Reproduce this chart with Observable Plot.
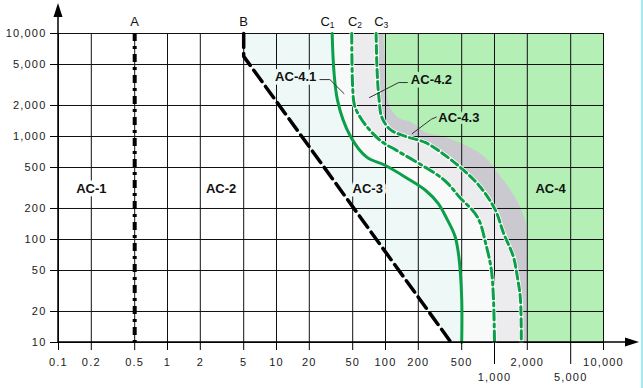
<!DOCTYPE html>
<html><head><meta charset="utf-8">
<script src="https://cdn.jsdelivr.net/npm/d3@7"></script>
<script src="https://cdn.jsdelivr.net/npm/@observablehq/plot@0.6"></script>
<style>
html,body{margin:0;padding:0;background:#fff;}
#chart{width:643px;height:388px;position:relative;overflow:hidden;}
#chart::after{content:"";position:absolute;right:0;top:0;width:2px;height:100%;background:#a4ecf2;}
</style></head><body><div id="chart"></div>
<script>
// Tick values (current in mA, time in ms)
const xTicks = [0.1,0.2,0.5,1,2,5,10,20,50,100,200,500,1000,2000,5000,10000];
const xTicksLowRow = [1000,5000];
const yTicks = [10,20,50,100,200,500,1000,2000,5000,10000];

// Boundary curves (current mA vs time ms)
const aCurrent = 0.5;
const bCurrent = [5, 5, 400];
const bTime    = [10000, 6000, 10];
const c1Current = [32.4, 36.3, 47.8, 67.3, 100, 154, 234, 304, 371, 435, 471, 500, 500];
const c1Time    = [10000, 2240, 1000, 630, 523, 400, 299, 224, 154, 107, 68, 27, 10];
const c2Current = [49, 50, 52, 58.6, 71.4, 92.5, 124, 217, 349, 481, 700, 836, 935, 978, 1000];
const c2Time    = [10000, 2990, 2000, 1540, 1160, 891, 741, 524, 374, 256, 164, 89, 51, 27, 10];
const c3Current = [82, 83.7, 87, 92.5, 111, 154, 234, 371, 523, 748, 1021, 1208, 1490, 1622, 1727, 1762];
const c3Time    = [10000, 4380, 2390, 1540, 1165, 1000, 871, 630, 468, 320, 192, 116, 68, 43, 27, 10];
const shadeCurrent = [96, 102, 109, 132, 176, 234, 304, 523, 818, 1158, 1555, 1918, 2000, 2000];
const shadeTime    = [10000, 4380, 2000, 1510, 1355, 1090, 1020, 832, 630, 400, 256, 154, 100, 10];

// Curve labels
const curveLabels = ["A","B","C","C","C"];
const curveSubs   = ["","","1","2","3"];
const curveLabelCurrent = [0.5, 5, 30.2, 54, 94];

// Zone labels
const zoneNames   = ["AC-1","AC-2","AC-3","AC-4","AC-4.1","AC-4.2","AC-4.3"];
const zoneCurrent = [0.2, 3.1, 68.7, 3270, 15, 264, 471];
const zoneTime    = [313, 313, 313, 313, 3830, 3570, 1510];
const zoneHalo    = ["#ffffff","#ffffff","#f0f9f8","#b4f0b6","#eef8f7","#b4f0b6","#b4f0b6"];

// Leader lines for AC-4.x
const lead1Current = [24, 30.9, 41.6],  lead1Time = [3570, 3570, 2610];
const lead2Current = [164, 132, 71.4],  lead2Time = [3340, 3340, 2390];
const lead3Current = [310, 264, 176],   lead3Time = [1580, 1475, 1067];

const table = (c, t) => c.map((v, i) => ({mA: v, ms: t[i]}));
const B = table(bCurrent, bTime), C1 = table(c1Current, c1Time), C2 = table(c2Current, c2Time),
      C3 = table(c3Current, c3Time), SH = table(shadeCurrent, shadeTime);
const xMax = xTicks[xTicks.length - 1], xMin = xTicks[0];
const yMin = yTicks[0], yMax = yTicks[yTicks.length - 1];
const fmt = d3.format(",");
const green = "#0a9f48";

const fillTo = (data, fill, curve) => Plot.areaX(data, {y: "ms", x1: "mA", x2: () => xMax, fill, curve});
const C = curveLabels.map((d, i) => ({t: d, s: curveSubs[i], x: curveLabelCurrent[i], y: yMax}));
const Z = zoneNames.map((d, i) => ({t: d, x: zoneCurrent[i], y: zoneTime[i], h: zoneHalo[i]}));
const xTop = xTicks.filter(d => !xTicksLowRow.includes(d));
const tickText = {fontSize: 11, fill: "#1a1a1a"};

const chart = Plot.plot({
  width: 643, height: 388,
  marginLeft: 58, marginRight: 40, marginTop: 33, marginBottom: 46,
  x: {type: "log", domain: [xMin, xMax]},
  y: {type: "log", domain: [yMin, yMax]},
  color: {type: "identity"},
  style: {fontFamily: "'Liberation Sans', Arial, sans-serif", fontSize: "11px", background: "transparent", color: "#111"},
  marks: [
    fillTo(B, "#eef8f7", "linear"),
    fillTo(C1, "#f8fafa", "catmull-rom"),
    fillTo(C2, "#ececef", "catmull-rom"),
    fillTo(C3, "#c9c9cf", "catmull-rom"),
    fillTo(SH, "#b4f0b6", "catmull-rom"),
    Plot.ruleX(xTicks, {stroke: "#111", strokeWidth: 1}),
    Plot.ruleY(yTicks, {stroke: "#111", strokeWidth: 1}),
    Plot.ruleX([aCurrent], {stroke: "#000", strokeWidth: 4, strokeDasharray: "8,5,3,5"}),
    Plot.line(B, {x: "mA", y: "ms", stroke: "#000", strokeWidth: 3.5, strokeDasharray: "14,6"}),
    Plot.line(C1, {x: "mA", y: "ms", stroke: green, strokeWidth: 3, curve: "catmull-rom"}),
    Plot.line(C2, {x: "mA", y: "ms", stroke: "#fff", strokeWidth: 4.5, curve: "catmull-rom"}),
    Plot.line(C2, {x: "mA", y: "ms", stroke: green, strokeWidth: 3, strokeDasharray: "10,4,3,4", curve: "catmull-rom"}),
    Plot.line(C3, {x: "mA", y: "ms", stroke: "#fff", strokeWidth: 4.5, curve: "catmull-rom"}),
    Plot.line(C3, {x: "mA", y: "ms", stroke: green, strokeWidth: 3, strokeDasharray: "8,4", curve: "catmull-rom"}),
    Plot.line(table(lead1Current, lead1Time), {x: "mA", y: "ms", stroke: "#333", strokeWidth: 1}),
    Plot.line(table(lead2Current, lead2Time), {x: "mA", y: "ms", stroke: "#333", strokeWidth: 1}),
    Plot.line(table(lead3Current, lead3Time), {x: "mA", y: "ms", stroke: "#333", strokeWidth: 1}),
    Plot.text(Z, {x: "x", y: "y", text: "t", fill: "#111", stroke: "h", strokeWidth: 7, fontWeight: "bold", fontSize: 13}),
    Plot.text(C.slice(0, 2), {x: "x", y: "y", text: "t", dy: -12, fontSize: 13, fill: "#111"}),
    Plot.text(C.slice(2), {x: "x", y: "y", text: "t", dy: -12, dx: 1, textAnchor: "end", fontSize: 13, fill: "#111"}),
    Plot.text(C.slice(2), {x: "x", y: "y", text: "s", dy: -8, dx: 1, textAnchor: "start", fontSize: 8.5, fill: "#111"}),
    // tick marks (labels drawn below as text so none are thinned out)
    Plot.axisX({ticks: xTop, tickFormat: () => "", tickSize: 8, stroke: "#000"}),
    Plot.axisX({ticks: xTicksLowRow, tickFormat: () => "", tickSize: 22, stroke: "#000"}),
    Plot.axisY({ticks: yTicks, tickFormat: () => "", tickSize: 8, stroke: "#000"}),
    Plot.text(xTop, {x: d => d, y: () => yMin, text: fmt, dy: 20, ...tickText}),
    Plot.text(xTicksLowRow, {x: d => d, y: () => yMin, text: fmt, dy: 35, ...tickText}),
    Plot.text(yTicks, {x: () => xMin, y: d => d, text: fmt, dx: -12, textAnchor: "end", ...tickText})
  ]
});

// Slightly spaced tick label digits, as in the reference
const labelSet = new Set([...xTicks, ...yTicks].map(fmt));
d3.select(chart).selectAll("text").filter(function () {
  return labelSet.has(this.textContent) && this.getAttribute("font-weight") !== "bold";
}).attr("letter-spacing", "1.2px");

// Axis lines with arrowheads
const sx = chart.scale("x"), sy = chart.scale("y");
const x0 = sx.apply(xMin), y0 = sy.apply(yMin);
const yTop = sy.apply(yMax), xRight = sx.apply(xMax);
const g = d3.select(chart).append("g");
g.append("line").attr("x1", x0).attr("x2", x0).attr("y1", y0).attr("y2", yTop - 18).attr("stroke", "#000").attr("stroke-width", 1.5);
g.append("path").attr("d", `M${x0-4.5},${yTop-16}L${x0},${yTop-30}L${x0+4.5},${yTop-16}Z`).attr("fill", "#000");
g.append("line").attr("x1", x0).attr("x2", xRight + 24).attr("y1", y0).attr("y2", y0).attr("stroke", "#000").attr("stroke-width", 1.5);
g.append("path").attr("d", `M${xRight+22},${y0-4.5}L${xRight+36},${y0}L${xRight+22},${y0+4.5}Z`).attr("fill", "#000");

document.getElementById("chart").appendChild(chart);
</script></body></html>
